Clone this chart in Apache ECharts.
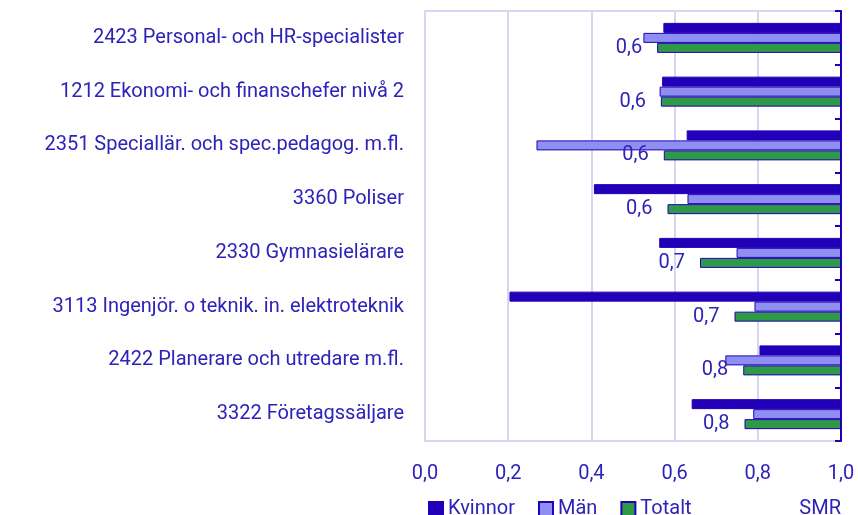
<!DOCTYPE html>
<html>
<head>
<meta charset="utf-8">
<script src="https://cdn.jsdelivr.net/npm/echarts@6/dist/echarts.min.js"></script>
<style>
  html, body { margin: 0; padding: 0; background: #fff; }
  #chart-container { width: 858px; height: 515px; }
</style>
</head>
<body>
<div id="chart-container"></div>
<script>
var categories = [
  "2423 Personal- och HR-specialister",
  "1212 Ekonomi- och finanschefer nivå 2",
  "2351 Speciallär. och spec.pedagog. m.fl.",
  "3360 Poliser",
  "2330 Gymnasielärare",
  "3113 Ingenjör. o teknik. in. elektroteknik",
  "2422 Planerare och utredare m.fl.",
  "3322 Företagssäljare"
];
var kvinnor = [0.573, 0.570, 0.629, 0.406, 0.563, 0.203, 0.804, 0.641];
var man = [0.525, 0.564, 0.268, 0.631, 0.749, 0.792, 0.722, 0.789];
var totalt = [0.558, 0.567, 0.574, 0.583, 0.661, 0.744, 0.765, 0.768];
var xTicks = [0, 0.2, 0.4, 0.6, 0.8, 1.0];

var textColor = "#2e22b8";
var darkBlue = "#2200b8";
var lavender = "#d6d6f2";
var fontSize = 20;

function fmt(v) {
  return v.toFixed(1).replace(".", ",");
}

// bars are drawn from the value up to 1.0, so a transparent base bar is stacked first
function pair(name, stackId, values, color, withLabel) {
  var base = {
    name: "_" + stackId,
    type: "bar",
    stack: stackId,
    barWidth: 10,
    barGap: "0%",
    silent: true,
    itemStyle: { color: "transparent", borderWidth: 0 },
    data: values
  };
  var shown = {
    name: name,
    type: "bar",
    stack: stackId,
    barWidth: 10,
    barGap: "0%",
    itemStyle: { color: color, borderColor: darkBlue, borderWidth: 1 },
    data: values.map(function (v) { return 1 - v; })
  };
  if (withLabel) {
    shown.label = {
      show: true,
      position: "left",
      distance: 15,
      fontFamily: "Roboto",
      fontSize: fontSize,
      color: textColor,
      formatter: function (p) { return fmt(values[p.dataIndex]); }
    };
  }
  return [base, shown];
}

var dom = document.getElementById("chart-container");
var myChart = echarts.init(dom, null, { renderer: "canvas" });

var option = {
  animation: false,
  textStyle: { fontFamily: "Roboto" },
  title: {
    text: "SMR",
    right: 12,
    bottom: -9,
    textStyle: { fontFamily: "Roboto", fontSize: fontSize, fontWeight: "normal", color: textColor }
  },
  legend: {
    data: ["Kvinnor", "Män", "Totalt"],
    left: 423,
    bottom: -9,
    icon: "rect",
    itemWidth: 14,
    itemHeight: 14,
    itemGap: 23,
    textStyle: { fontFamily: "Roboto", fontSize: fontSize, color: textColor }
  },
  grid: {
    left: 425,
    right: 17,
    top: 11,
    bottom: 74,
    show: true,
    borderColor: lavender,
    borderWidth: 2
  },
  xAxis: {
    type: "value",
    min: 0,
    max: 1,
    interval: 0.2,
    axisLine: { show: false },
    axisTick: { show: false },
    splitLine: { lineStyle: { color: lavender, width: 2 } },
    axisLabel: {
      fontFamily: "Roboto",
      fontSize: fontSize,
      color: textColor,
      margin: 23,
      formatter: function (v) { return xTicks.indexOf(v) >= 0 ? fmt(v) : ""; }
    }
  },
  yAxis: [
    {
      type: "category",
      data: categories,
      inverse: true,
      position: "left",
      axisLine: { show: false },
      axisTick: { show: false },
      axisLabel: { fontFamily: "Roboto", fontSize: fontSize, color: textColor, margin: 21 }
    },
    {
      type: "category",
      data: categories,
      inverse: true,
      position: "right",
      axisLine: { show: true, lineStyle: { color: darkBlue, width: 2 } },
      axisTick: { show: true, inside: true, length: 6, lineStyle: { color: darkBlue, width: 2 } },
      axisLabel: { show: false }
    }
  ],
  series: []
    .concat(pair("Kvinnor", "k", kvinnor, darkBlue, false))
    .concat(pair("Män", "m", man, "#8f8ff2", false))
    .concat(pair("Totalt", "t", totalt, "#2e9a48", true))
};

myChart.setOption(option);
window.addEventListener("resize", myChart.resize);
</script>
</body>
</html>
